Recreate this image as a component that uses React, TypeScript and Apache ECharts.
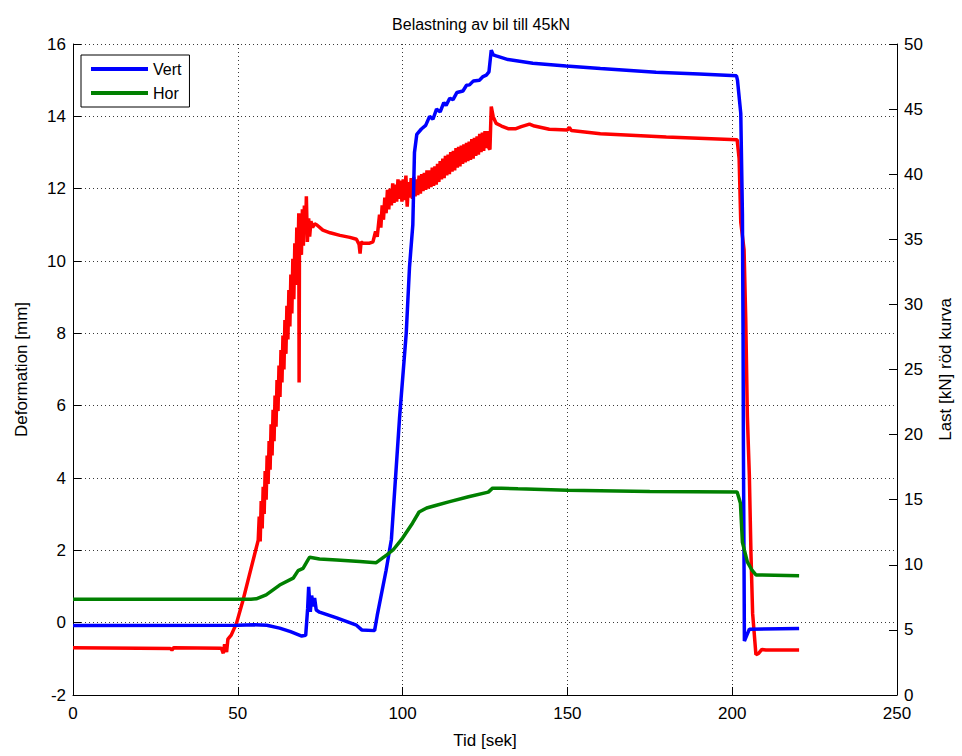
import React, { useEffect, useRef } from "react";
import * as echarts from "echarts";

const titleText = "Belastning av bil till 45kN";

// Vert (left axis, mm)
const vertT = [0, 50, 55, 58.8, 62.7, 66, 69.4, 70.6, 71.2, 71.5, 72.0, 72.4, 73, 73.3, 73.8, 74.8, 80, 86, 87.6, 91.5, 92.3, 95, 96.6, 99.1, 101.1, 102.1, 103.1, 103.6, 104.3, 105.7, 107, 108.2, 109.2, 110.3, 111.4, 112.5, 113.2, 114.3, 115.3, 116.5, 118.3, 119.4, 120.3, 121.5, 123.3, 124.4, 125.4, 126.2, 126.9, 127.5, 128.4, 132, 139.5, 149.6, 160, 176.9, 190, 201.3, 201.6, 202.6, 203.1, 203.3, 203.4, 203.6, 203.7, 204.2, 205.2, 220.3];
const vertV = [-0.08, -0.07, -0.06, -0.07, -0.15, -0.25, -0.37, -0.35, 0.4, 0.99, 0.3, 0.75, 0.45, 0.68, 0.35, 0.29, 0.13, -0.07, -0.2, -0.22, 0.2, 1.45, 2.3, 5.7, 8.0, 9.84, 11.0, 13.0, 13.5, 13.65, 13.75, 14.0, 13.92, 14.2, 14.12, 14.38, 14.3, 14.5, 14.46, 14.66, 14.7, 14.86, 14.87, 14.98, 15.0, 15.1, 15.14, 15.23, 15.83, 15.7, 15.67, 15.57, 15.47, 15.39, 15.32, 15.22, 15.17, 15.12, 15.0, 14.08, 11.3, 7.9, 4.87, 1.5, -0.51, -0.4, -0.18, -0.16];

// Hor (left axis, mm)
const horT = [0, 54, 55.6, 58.6, 62.7, 66.8, 68.3, 69.8, 71.2, 71.8, 74.8, 80, 87, 92, 95.1, 97.1, 100, 103, 105, 107.3, 110, 114, 120, 126, 127.3, 130, 135, 150, 175, 201.5, 202.5, 203.1, 204.6, 206, 207.2, 220.3];
const horV = [0.65, 0.65, 0.66, 0.77, 1.04, 1.23, 1.44, 1.5, 1.72, 1.81, 1.76, 1.73, 1.69, 1.66, 1.87, 2.01, 2.34, 2.75, 3.06, 3.17, 3.24, 3.34, 3.48, 3.61, 3.72, 3.72, 3.7, 3.66, 3.63, 3.61, 3.3, 2.22, 1.68, 1.45, 1.32, 1.3];

// Last (right axis, kN)
const lastT = [
  0, 20, 29.5, 30, 30.5, 45, 45.6, 46, 46.6, 47, 48, 49.6, 51.6, 53.6, 56.2,
  56.5, 56.8, 57.1, 57.4, 57.7, 58.0, 58.3, 58.6, 58.9, 59.2, 59.5, 59.8, 60.1, 60.4, 60.7, 61.0,
  61.3, 61.6, 61.9, 62.2, 62.5, 62.8, 63.1, 63.4, 63.7, 64.0, 64.3, 64.6, 64.9, 65.2, 65.5, 65.8,
  66.1, 66.4, 66.7, 67.0, 67.3, 67.6, 67.9, 68.2, 68.5, 68.6, 68.7, 69.0, 69.3, 69.6, 69.9, 70.2,
  70.6, 70.8, 71.1, 71.5, 71.8, 72.2, 72.7, 73.3, 74, 75.8, 78, 81, 84, 86, 86.8, 87.1, 87.4, 88,
  90, 91, 91.8, 92.3,
  93.0, 93.4, 93.8, 94.2, 94.6, 95.0, 95.4, 95.8, 96.2, 96.6, 97.0, 97.4, 97.8, 98.2, 98.6, 99.0,
  99.4, 99.8, 100.2, 100.6, 101.0, 101.4, 101.8, 102.2, 102.6, 103.0, 103.4, 103.8, 104.2, 104.6,
  105.0, 105.4, 105.8, 106.2, 106.6, 107.0, 107.4, 107.8, 108.2, 108.6, 109.0, 109.4, 109.8, 110.2,
  110.6, 111.0, 111.4, 111.8, 112.2, 112.6, 113.0, 113.4, 113.8, 114.2, 114.6, 115.0, 115.4, 115.8,
  116.2, 116.6, 117.0, 117.4, 117.8, 118.2, 118.6, 119.0, 119.4, 119.8, 120.2, 120.6, 121.0, 121.4,
  121.8, 122.2, 122.6, 123.0, 123.4, 123.8, 124.2, 124.6, 125.0, 125.4, 125.8, 126.2, 126.5,
  126.9, 127.5, 128.4, 130, 132, 134.4, 136, 138.5, 140, 144.5, 150, 150.6, 151.2, 160, 180,
  201.5, 202.1, 202.6, 203.6, 204.1, 204.6, 205.2, 205.7, 206.2, 207.2, 208, 209, 210.2, 220.3,
];
const lastV = [
  3.62, 3.6, 3.58, 3.45, 3.62, 3.6, 3.2, 3.9, 3.3, 4.3, 4.6, 5.5, 7.3, 9.3, 11.9,
  13.7, 11.8, 14.9, 12.8, 16.0, 13.9, 17.2, 15.0, 18.4, 16.2, 19.5, 17.3, 20.8, 18.4, 21.9, 19.5,
  23.0, 20.6, 24.2, 21.8, 25.3, 22.9, 26.5, 24.0, 27.6, 25.0, 28.8, 26.2, 29.9, 27.3, 31.1, 28.3,
  32.3, 29.3, 33.5, 30.4, 34.7, 31.5, 35.9, 32.6, 37.0, 24.0, 34.0, 36.5, 33.8, 37.3, 34.5, 37.6,
  36.0, 38.3, 34.8, 36.6, 35.2, 36.4, 35.9, 36.2, 36.1, 35.7, 35.5, 35.3, 35.15, 35.0, 34.6, 33.9, 34.8, 34.7,
  34.7, 34.8, 35.6, 35.2,
  36.9, 35.9, 37.6, 36.5, 38.2, 37.0, 38.8, 37.3, 38.9, 37.6, 39.3, 37.8, 39.2, 37.9, 39.6, 38.1,
  39.5, 37.9, 39.6, 38.0, 39.9, 37.5, 39.4, 38.2, 39.7, 38.1, 39.8, 38.3, 39.6, 38.4,
  39.9, 38.5, 40.0, 38.7, 40.1, 38.8, 40.3, 38.9, 40.3, 39.0, 40.5, 39.1, 40.6, 39.2,
  40.8, 39.4, 41.0, 39.6, 41.2, 39.7, 41.4, 39.9, 41.5, 40.0, 41.7, 40.2, 41.8, 40.3,
  42.0, 40.5, 42.1, 40.6, 42.2, 40.8, 42.3, 40.9, 42.4, 41.0, 42.5, 41.1, 42.7, 41.2,
  42.8, 41.4, 42.9, 41.5, 43.1, 41.7, 43.2, 41.8, 43.3, 42.0, 43.3, 42.0, 41.9,
  45.2, 44.4, 43.9, 43.7, 43.5, 43.5, 43.65, 43.85, 43.7, 43.45, 43.4, 43.6, 43.35, 43.1, 42.85,
  42.65, 41.2, 36.3, 34.2, 29.0, 21.4, 16.9, 10.8, 6.25, 3.1, 3.2, 3.5, 3.45, 3.45,
];

const zip = (t: number[], v: number[]) => t.map((x, i) => [x, v[i]]);

const FONT = "Liberation Sans, Arial, Helvetica, sans-serif";

export default function App() {
  const ref = useRef<HTMLDivElement>(null);
  useEffect(() => {
    document.body.style.margin = "0";
    const chart = echarts.init(ref.current!, null, { renderer: "svg" });
    const gridLine = { show: true, lineStyle: { color: "#3a3a3a", width: 1, type: [1, 3] as any } };
    chart.setOption({
      animation: false,
      backgroundColor: "#ffffff",
      title: {
        text: titleText,
        left: "center",
        top: 11,
        textStyle: { fontFamily: FONT, fontSize: 16, fontWeight: "normal", color: "#000" },
      },
      legend: {
        data: ["Vert", "Hor"],
        orient: "vertical",
        left: 81,
        top: 55,
        backgroundColor: "#fff",
        borderColor: "#000",
        borderWidth: 1,
        borderRadius: 0,
        padding: [6, 8, 6, 10],
        itemGap: 8,
        itemWidth: 57,
        itemHeight: 4,
        icon: "rect",
        textStyle: { fontFamily: FONT, fontSize: 16, color: "#000" },
      },
      grid: { left: 73, right: 64, top: 44, bottom: 61, containLabel: false },
      xAxis: {
        type: "value",
        min: 0,
        max: 250,
        interval: 50,
        name: "Tid [sek]",
        nameLocation: "middle",
        nameGap: 37,
        nameTextStyle: { fontFamily: FONT, fontSize: 17, color: "#000" },
        axisLine: { show: true, onZero: false, lineStyle: { color: "#000", width: 1 } },
        axisTick: { show: true, inside: true, length: 8, lineStyle: { color: "#000" } },
        axisLabel: { fontFamily: FONT, fontSize: 17, color: "#000", margin: 10 },
        splitLine: gridLine,
      },
      yAxis: [
        {
          type: "value",
          min: -2,
          max: 16,
          interval: 2,
          position: "left",
          name: "Deformation [mm]",
          nameLocation: "middle",
          nameRotate: 90,
          nameGap: 43,
          nameTextStyle: { fontFamily: FONT, fontSize: 17, color: "#000" },
          axisLine: { show: true, onZero: false, lineStyle: { color: "#000", width: 1 } },
          axisTick: { show: true, inside: true, length: 8, lineStyle: { color: "#000" } },
          axisLabel: { fontFamily: FONT, fontSize: 17, color: "#000", margin: 7 },
          splitLine: gridLine,
        },
        {
          type: "value",
          min: 0,
          max: 50,
          interval: 5,
          position: "right",
          name: "Last [kN] röd kurva",
          nameLocation: "middle",
          nameRotate: 90,
          nameGap: 40,
          nameTextStyle: { fontFamily: FONT, fontSize: 17, color: "#000" },
          axisLine: { show: true, onZero: false, lineStyle: { color: "#000", width: 1 } },
          axisTick: { show: true, inside: true, length: 8, lineStyle: { color: "#000" } },
          axisLabel: { fontFamily: FONT, fontSize: 17, color: "#000", margin: 7 },
          splitLine: { show: false },
        },
      ],
      series: [
        {
          name: "Last",
          type: "line",
          yAxisIndex: 1,
          data: zip(lastT, lastV),
          showSymbol: false,
          lineStyle: { color: "#ff0000", width: 3.5 },
          itemStyle: { color: "#ff0000" },
          z: 2,
        },
        {
          name: "Vert",
          type: "line",
          yAxisIndex: 0,
          data: zip(vertT, vertV),
          showSymbol: false,
          lineStyle: { color: "#0000ff", width: 3.5 },
          itemStyle: { color: "#0000ff" },
          z: 3,
        },
        {
          name: "Hor",
          type: "line",
          yAxisIndex: 0,
          data: zip(horT, horV),
          showSymbol: false,
          lineStyle: { color: "#008000", width: 3.5 },
          itemStyle: { color: "#008000" },
          z: 3,
        },
      ],
    });
    return () => chart.dispose();
  }, []);
  return <div ref={ref} style={{ width: 962, height: 756 }} />;
}
